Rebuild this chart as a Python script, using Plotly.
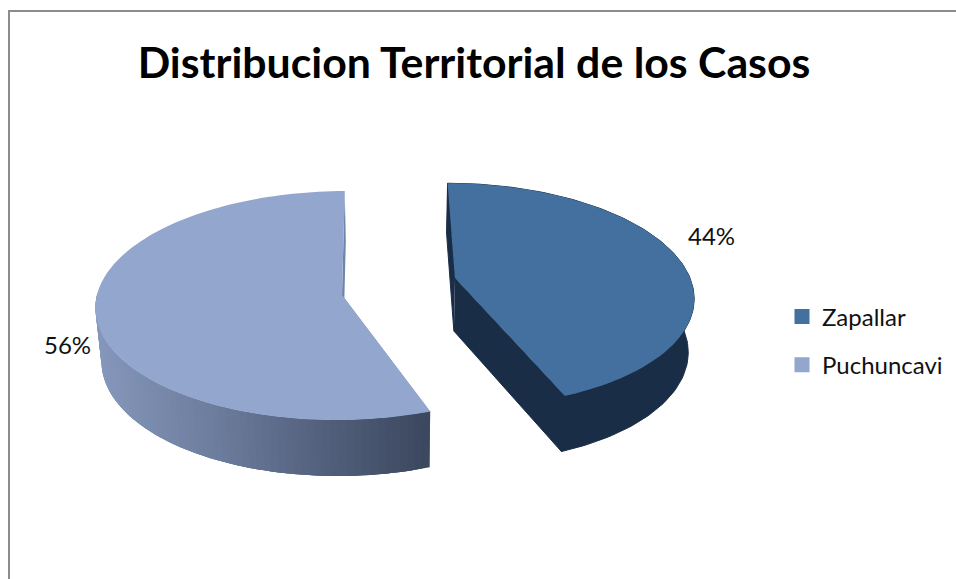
import numpy as np
import plotly.graph_objects as go

# --- data ---
categories = ["Zapallar", "Puchuncavi"]
shares = [44, 56]
title_text = "Distribucion Territorial de los Casos"

# --- style ---
top_colors = ["#44709F", "#92A6CE"]
wall_colors = ["#1A2D47", None]
cut_colors = ["#1A2D47", "#6F84AB"]
grad_stops = [(0.0, (134, 152, 188)), (0.35, (110, 126, 158)), (0.7, (82, 96, 124)), (1.0, (60, 72, 94))]

W, H = 956, 579
apex = [(455, 278), (342, 295)]
radius_x = [235, 245]
radius_y = [109, 113.5]
persp = [0.15, 0.0917]
edge_adjust = [(0.0, 0.0), (np.radians(1.2), np.radians(-0.5))]
vanish_x = 398
depth_back, depth_front = 50, 56
shrink = 0.98
font = "Lato"


def upper(i, theta):
    u, v = np.sin(theta), -np.cos(theta)
    s = 1 / (1 - persp[i] * v)
    ax, ay = apex[i]
    x = vanish_x + (ax - vanish_x + radius_x[i] * u) * s
    y = ay + radius_y[i] * v * s
    return x, y, v


def lower(x, y, v):
    d = depth_back + (depth_front - depth_back) * (v + 1) / 2
    return vanish_x + (x - vanish_x) * shrink, y + d


def grad(t):
    ts = [g[0] for g in grad_stops]
    c = [np.interp(t, ts, [g[1][k] for g in grad_stops]) for k in range(3)]
    return "rgb(%d,%d,%d)" % tuple(c)


def poly(xs, ys, color, outlined=False):
    if outlined:
        return go.Scatter(x=list(xs), y=list(ys), mode="lines", fill="toself", fillcolor=color,
                          line=dict(color=color, width=1), hoverinfo="skip", showlegend=False)
    return go.Scatter(x=list(xs), y=list(ys), mode="none", fill="toself", fillcolor=color,
                      hoverinfo="skip", showlegend=False)


fig = go.Figure()
start = 0.0
spans = []
for v in shares:
    end = start + v / sum(shares) * 2 * np.pi
    spans.append((start, end))
    start = end

for i, (a0, a1) in enumerate(spans):
    th = np.linspace(a0 + edge_adjust[i][0], a1 + edge_adjust[i][1], 121)
    ux, uy, uv = upper(i, th)
    lx, ly = lower(ux, uy, uv)
    ax, ay = apex[i]
    alx, aly = lower(ax, ay, 0.0)

    # cut faces (behind the top face)
    solid = bool(wall_colors[i])
    for k in (0, -1):
        fig.add_trace(poly([ax, ux[k], lx[k], alx], [ay, uy[k], ly[k], aly], cut_colors[i], outlined=solid))

    # outer wall
    if solid:
        fig.add_trace(poly(np.r_[ux, lx[::-1]], np.r_[uy, ly[::-1]], wall_colors[i], outlined=True))
    else:
        # each strip overlaps the next so no seams show
        front = np.where(uv > -0.05)[0]
        x_min, x_max = ux[front].min(), ux[front].max()
        for j in front[:-1]:
            t = (ux[j] - x_min) / (x_max - x_min)
            j2 = min(j + 3, front[-1])
            fig.add_trace(poly(np.r_[ux[j:j2 + 1], lx[j:j2 + 1][::-1]],
                               np.r_[uy[j:j2 + 1], ly[j:j2 + 1][::-1]], grad(t)))

    # top face
    fig.add_trace(poly(np.r_[ax, ux, ax], np.r_[ay, uy, ay], top_colors[i]))

# legend entries
for i, name in enumerate(categories):
    fig.add_trace(go.Scatter(x=[None], y=[None], mode="markers", name=name, legendgroup=name,
                             marker=dict(symbol="square", size=15, color=top_colors[i])))

label_pos = [(711, 235), (67, 344)]
annotations = [dict(x=px, y=py, xref="x", yref="y", text=f"{v}%", showarrow=False,
                    font=dict(family=font, size=24, color="#111111"))
               for v, (px, py) in zip(shares, label_pos)]

fig.update_layout(
    width=W, height=H, margin=dict(l=0, r=0, t=0, b=0),
    paper_bgcolor="white", plot_bgcolor="white",
    xaxis=dict(range=[0, W], visible=False, fixedrange=True),
    yaxis=dict(range=[H, 0], visible=False, fixedrange=True),
    title=dict(text=f"<b>{title_text}</b>", x=474 / W, xanchor="center", y=1 - 63 / H, yanchor="middle",
               font=dict(family=font, size=42.8, color="#000000")),
    legend=dict(x=782 / W, y=1 - 294.5 / H, xanchor="left", yanchor="top", traceorder="grouped",
                tracegroupgap=14, font=dict(family=font, size=24, color="#111111"),
                bgcolor="rgba(0,0,0,0)", itemwidth=30),
    annotations=annotations,
    shapes=[
        dict(type="line", xref="x", yref="y", x0=9, x1=956, y0=11, y1=11, line=dict(color="#8C8C8C", width=2)),
        dict(type="line", xref="x", yref="y", x0=9, x1=9, y0=10, y1=579, line=dict(color="#8C8C8C", width=2)),
    ],
)

fig.write_html("out.html", post_script="document.body.style.margin='0';", config={"displayModeBar": False})
